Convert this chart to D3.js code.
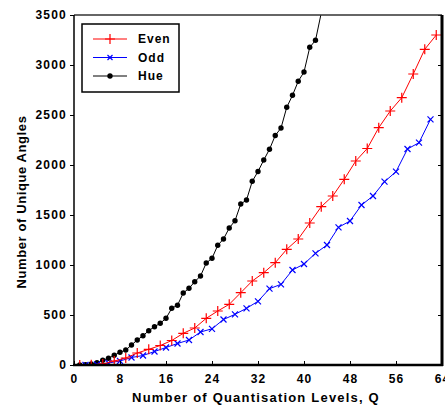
<!DOCTYPE html>
<html>
<head>
<meta charset="utf-8">
<script src="https://cdn.jsdelivr.net/npm/d3@7"></script>
<style>
  body { margin: 0; background: #fff; }
  text { font-family: "Liberation Sans", Arial, sans-serif; font-weight: bold; }
</style>
</head>
<body>
<svg id="chart"></svg>
<script>
// Even (red +) sits on odd Q, Odd (blue x) on even Q, Hue on every Q
const EVEN_Q = [1, 3, 5, 7, 9, 11, 13, 15, 17, 19, 21, 23, 25, 27, 29, 31,
    33, 35, 37, 39, 41, 43, 45, 47, 49, 51, 53, 55, 57, 59, 61, 63];
const EVEN_V = [0, 2, 10, 40, 70, 120, 157, 195, 245, 317, 370, 467, 540, 607, 723, 840,
    923, 1023, 1157, 1260, 1420, 1583, 1690, 1857, 2040, 2165, 2373, 2540, 2673, 2910, 3157, 3300];

const ODD_Q = [2, 4, 6, 8, 10, 12, 14, 16, 18, 20, 22, 24, 26, 28, 30, 32,
    34, 36, 38, 40, 42, 44, 46, 48, 50, 52, 54, 56, 58, 60, 62];
const ODD_V = [0, 5, 20, 40, 75, 95, 135, 175, 215, 250, 330, 362, 455, 507, 567, 637,
    763, 807, 950, 1010, 1117, 1200, 1377, 1440, 1600, 1690, 1833, 1933, 2160, 2223, 2457];

const HUE_Q = [1, 2, 3, 4, 5, 6, 7, 8, 9, 10, 11, 12, 13, 14, 15, 16, 17, 18, 19, 20, 21,
    22, 23, 24, 25, 26, 27, 28, 29, 30, 31, 32, 33, 34, 35, 36, 37, 38, 39, 40, 41, 42, 43];
const HUE_V = [0, 2, 10, 23, 47, 67, 97, 127, 150, 200, 250, 293, 343, 383, 417, 467, 567,
    598, 720, 767, 833, 890, 1020, 1067, 1197, 1260, 1370, 1443, 1610, 1650, 1837, 1935,
    2050, 2157, 2295, 2370, 2577, 2697, 2838, 2930, 3177, 3247, 3520];

const X_TICKS = [0, 8, 16, 24, 32, 40, 48, 56, 64];
const Y_TICKS = [0, 500, 1000, 1500, 2000, 2500, 3000, 3500];
const SERIES = ["Even", "Odd", "Hue"];

const WIDTH = 445;
const HEIGHT = 408;
const margin = { left: 74, right: 3, top: 15, bottom: 43 };

const svg = d3.select("#chart")
    .attr("width", WIDTH)
    .attr("height", HEIGHT);

const x = d3.scaleLinear().domain([0, 64]).range([margin.left, WIDTH - margin.right]);
const y = d3.scaleLinear().domain([0, 3500]).range([HEIGHT - margin.bottom, margin.top]);

svg.append("clipPath").attr("id", "plot")
    .append("rect")
    .attr("x", margin.left).attr("y", margin.top)
    .attr("width", x(64) - x(0)).attr("height", y(0) - y(3500));

function pts(qs, vs) {
    return qs.map(function(q, i) { return { q: q, v: vs[i] }; });
}

const line = d3.line()
    .x(function(d) { return x(d.q); })
    .y(function(d) { return y(d.v); });

const plot = svg.append("g").attr("clip-path", "url(#plot)");

function plusPath(cx, cy, s) {
    return "M" + (cx - s) + "," + cy + "H" + (cx + s) + "M" + cx + "," + (cy - s) + "V" + (cy + s);
}
function crossPath(cx, cy, s) {
    return "M" + (cx - s) + "," + (cy - s) + "L" + (cx + s) + "," + (cy + s) +
        "M" + (cx - s) + "," + (cy + s) + "L" + (cx + s) + "," + (cy - s);
}

// Hue
const hue = pts(HUE_Q, HUE_V);
plot.append("path").datum(hue)
    .attr("fill", "none").attr("stroke", "#000").attr("stroke-width", 1)
    .attr("d", line);
plot.selectAll(".hue").data(hue.filter(function(d) { return d.v <= 3500; }))
    .enter().append("circle")
    .attr("cx", function(d) { return x(d.q); })
    .attr("cy", function(d) { return y(d.v); })
    .attr("r", 2.7)
    .attr("fill", "#000");

// Odd
const odd = pts(ODD_Q, ODD_V);
plot.append("path").datum(odd)
    .attr("fill", "none").attr("stroke", "#0000ff").attr("stroke-width", 1)
    .attr("d", line);
plot.selectAll(".odd").data(odd)
    .enter().append("path")
    .attr("d", function(d) { return crossPath(x(d.q), y(d.v), 3); })
    .attr("stroke", "#0000ff").attr("stroke-width", 1.2).attr("fill", "none");

// Even
const even = pts(EVEN_Q, EVEN_V);
plot.append("path").datum(even)
    .attr("fill", "none").attr("stroke", "#ff0000").attr("stroke-width", 1)
    .attr("d", line);
plot.selectAll(".even").data(even)
    .enter().append("path")
    .attr("d", function(d) { return plusPath(x(d.q), y(d.v), 5); })
    .attr("stroke", "#ff0000").attr("stroke-width", 1.2).attr("fill", "none");

// axes
const xAxis = svg.append("g")
    .attr("transform", "translate(0," + y(0) + ")")
    .call(d3.axisBottom(x).tickValues(X_TICKS).tickSize(-4).tickPadding(9).tickFormat(d3.format("d")));
const yAxis = svg.append("g")
    .attr("transform", "translate(" + x(0) + ",0)")
    .call(d3.axisLeft(y).tickValues(Y_TICKS).tickSize(4).tickPadding(3).tickFormat(d3.format("d")));
const yAxisR = svg.append("g")
    .attr("transform", "translate(" + x(64) + ",0)")
    .call(d3.axisRight(y).tickValues(Y_TICKS).tickSize(-4).tickFormat(""));

[xAxis, yAxis, yAxisR].forEach(function(g) {
    g.select(".domain").remove();
    g.selectAll("line").attr("stroke", "#000");
    g.selectAll("text").attr("fill", "#000").style("font-size", "12px")
        .style("letter-spacing", "1.2px")
        .style("font-family", "'Liberation Sans', Arial, sans-serif").style("font-weight", "bold");
});

// frame
svg.append("line").attr("x1", x(0)).attr("x2", x(64)).attr("y1", y(3500)).attr("y2", y(3500))
    .attr("stroke", "#333").attr("stroke-width", 1.5);
svg.append("line").attr("x1", x(0)).attr("x2", x(0)).attr("y1", y(3500)).attr("y2", y(0))
    .attr("stroke", "#000").attr("stroke-width", 1.5);
svg.append("line").attr("x1", x(64)).attr("x2", x(64)).attr("y1", y(3500)).attr("y2", y(0) + 1)
    .attr("stroke", "#000").attr("stroke-width", 3);
svg.append("line").attr("x1", x(0) - 1).attr("x2", x(64) + 1).attr("y1", y(0)).attr("y2", y(0))
    .attr("stroke", "#000").attr("stroke-width", 2.5);

// titles
svg.append("text")
    .attr("x", 256).attr("y", 402)
    .attr("text-anchor", "middle")
    .style("font-size", "13px").style("letter-spacing", "1.2px")
    .text("Number of Quantisation Levels, Q");
svg.append("text")
    .attr("transform", "translate(26,202) rotate(-90)")
    .attr("text-anchor", "middle")
    .style("font-size", "13px").style("letter-spacing", "0.6px")
    .text("Number of Unique Angles");

// legend
const legend = svg.append("g");
legend.append("rect")
    .attr("x", 82).attr("y", 24).attr("width", 97).attr("height", 68)
    .attr("fill", "#fff").attr("stroke", "#000").attr("stroke-width", 1.5);
const colors = ["#ff0000", "#0000ff", "#000"];
const rows = legend.selectAll(".row").data(SERIES).enter().append("g")
    .attr("transform", function(d, i) { return "translate(0," + (39 + i * 18.5) + ")"; });
rows.append("line")
    .attr("x1", 93).attr("x2", 127)
    .attr("stroke", function(d, i) { return colors[i]; });
rows.append("path")
    .attr("d", function(d, i) {
        if (i === 0) return plusPath(110, 0, 5);
        if (i === 1) return crossPath(110, 0, 2.5);
        return "";
    })
    .attr("stroke", function(d, i) { return colors[i]; })
    .attr("stroke-width", 1.2).attr("fill", "none");
rows.filter(function(d, i) { return i === 2; }).append("circle")
    .attr("cx", 110).attr("cy", 0).attr("r", 2.7).attr("fill", "#000");
rows.append("text")
    .attr("x", 138).attr("dy", "0.35em")
    .style("font-size", "12px").style("letter-spacing", "1px")
    .text(function(d) { return d; });
</script>
</body>
</html>
